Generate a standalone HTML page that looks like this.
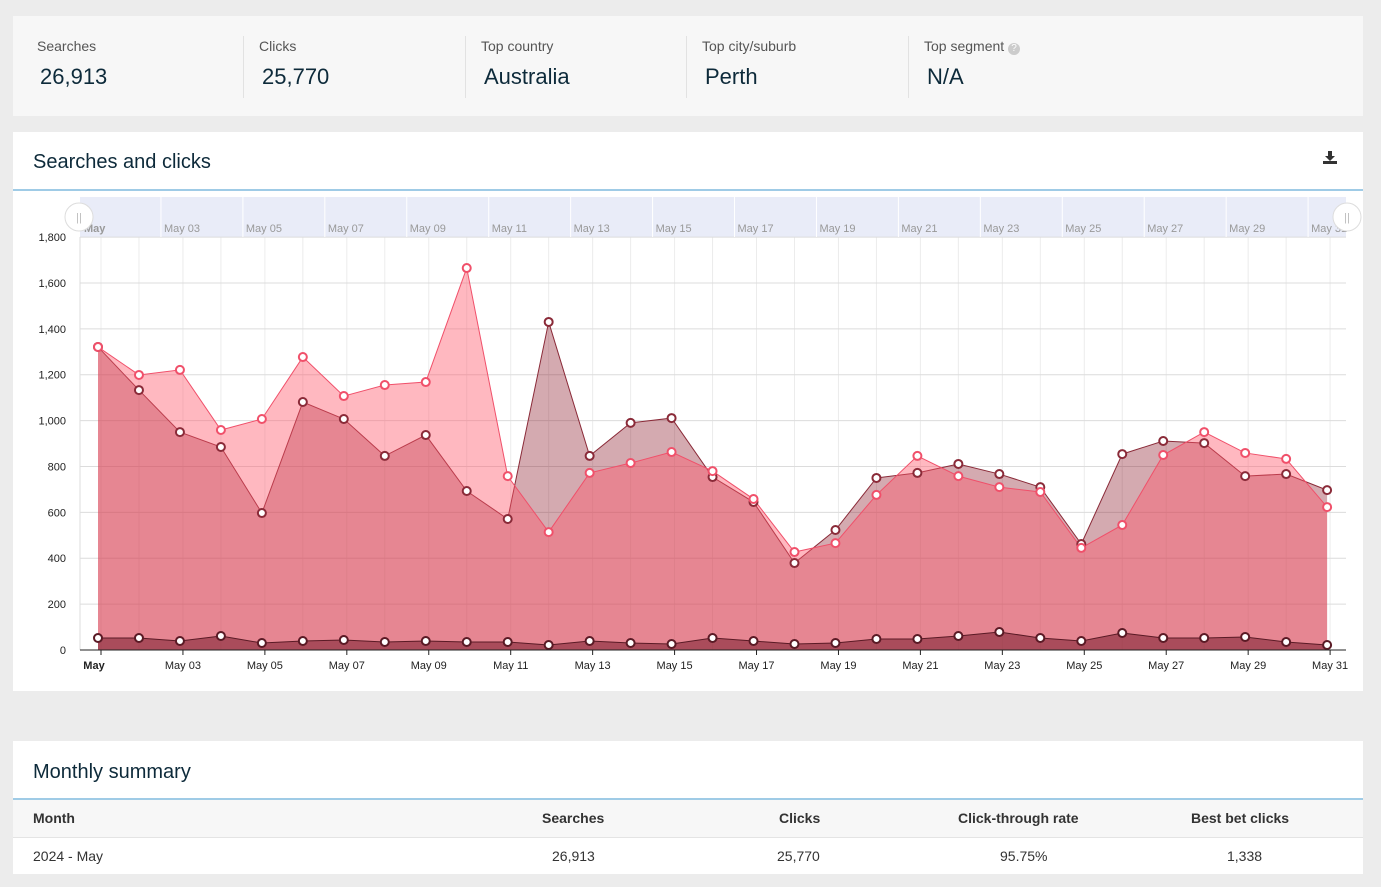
<!DOCTYPE html>
<html><head><meta charset="utf-8"><style>
body{margin:0;width:1381px;height:887px;background:#ececec;font-family:"Liberation Sans","DejaVu Sans",sans-serif;overflow:hidden;position:relative}
.card{position:absolute;background:#fff}
.stat{position:absolute;top:0;height:100px}
.stat .l{position:absolute;top:22px;font-size:14px;color:#555;white-space:nowrap}
.stat .v{position:absolute;top:48px;font-size:22px;color:#0d2a3a;white-space:nowrap}
.sep{position:absolute;top:20px;width:1px;height:62px;background:#e2e2e2}
h2{position:absolute;margin:0;font-weight:normal;font-size:20px;color:#0d2a3a}
.rule{position:absolute;height:2px;background:#9fcbe6}
</style></head><body>
<div class="card" style="left:13px;top:16px;width:1350px;height:100px;background:#f7f7f7">
 <div class="stat" style="left:24px"><div class="l">Searches</div><div class="v" style="left:3px">26,913</div></div>
 <div class="sep" style="left:230px"></div>
 <div class="stat" style="left:246px"><div class="l">Clicks</div><div class="v" style="left:3px">25,770</div></div>
 <div class="sep" style="left:452px"></div>
 <div class="stat" style="left:468px"><div class="l">Top&nbsp;country</div><div class="v" style="left:3px">Australia</div></div>
 <div class="sep" style="left:673px"></div>
 <div class="stat" style="left:689px"><div class="l">Top&nbsp;city/suburb</div><div class="v" style="left:3px">Perth</div></div>
 <div class="sep" style="left:895px"></div>
 <div class="stat" style="left:911px"><div class="l">Top&nbsp;segment <span style="display:inline-block;width:12px;height:12px;border-radius:6px;background:#ccc;color:#fff;font-size:10px;text-align:center;line-height:12px">?</span></div><div class="v" style="left:3px">N/A</div></div>
</div>
<div class="card" style="left:13px;top:132px;width:1350px;height:559px">
 <h2 style="left:20px;top:19px">Searches and clicks</h2>
 <svg style="position:absolute;left:1310px;top:18px" width="14" height="14"><path d="M5 1h4v5h3l-5 5-5-5h3z" fill="#333"/><rect x="0" y="11" width="14" height="3" fill="#333"/></svg>
 <div class="rule" style="left:0;top:57px;width:1350px"></div>
</div>
<svg style="position:absolute;left:0;top:0" width="1381" height="700" id="s"></svg>
<div class="card" style="left:13px;top:741px;width:1350px;height:133px">
 <h2 style="left:20px;top:20px">Monthly summary</h2>
 <div class="rule" style="left:0;top:57px;width:1350px"></div>
 <div style="position:absolute;left:0;top:59px;width:1350px;height:37px;background:#f7f7f7;border-bottom:1px solid #e4e4e4"></div>
 <div style="position:absolute;left:20px;top:69px;font-size:14px;font-weight:bold;color:#333">Month</div>
 <div style="position:absolute;left:529px;top:69px;font-size:14px;font-weight:bold;color:#333">Searches</div>
 <div style="position:absolute;left:766px;top:69px;font-size:14px;font-weight:bold;color:#333">Clicks</div>
 <div style="position:absolute;left:945px;top:69px;font-size:14px;font-weight:bold;color:#333">Click-through rate</div>
 <div style="position:absolute;left:1178px;top:69px;font-size:14px;font-weight:bold;color:#333">Best bet clicks</div>
 <div style="position:absolute;left:20px;top:107px;font-size:14px;color:#333">2024 - May</div>
 <div style="position:absolute;left:539px;top:107px;font-size:14px;color:#333">26,913</div>
 <div style="position:absolute;left:764px;top:107px;font-size:14px;color:#333">25,770</div>
 <div style="position:absolute;left:987px;top:107px;font-size:14px;color:#333">95.75%</div>
 <div style="position:absolute;left:1214px;top:107px;font-size:14px;color:#333">1,338</div>
</div>
<script>
var S=[1321,1133,950,885,597,1081,1007,846,937,693,571,1430,846,990,1011,754,645,379,523,750,772,811,767,710,462,854,911,902,758,767,697];
var C=[1321,1199,1221,959,1007,1277,1107,1155,1168,1665,758,514,772,815,863,780,658,427,466,676,846,758,710,689,445,545,850,950,859,833,623];
var B=[638,638,641,636,643,641,640,642,641,642,642,645,641,643,644,638,641,644,643,639,639,636,632,638,641,633,638,638,637,642,645];
var X=i=>98+i*40.97, Y=v=>650-v*0.2294;
var h='';
h+='<rect x="80" y="197" width="1266" height="40" fill="#e9ecf8"/>';
for(var i=0;i<31;i++){var x=X(i)+(i%2?0:3);h+='<line x1="'+x+'" y1="237" x2="'+x+'" y2="650" stroke="#ececec"/>';}
for(var v=0;v<=1800;v+=200){var y=Y(v);h+='<line x1="80" y1="'+y+'" x2="1346" y2="'+y+'" stroke="#dcdcdc"/>';h+='<text x="66" y="'+(y+4)+'" font-size="11" text-anchor="end" fill="#222">'+v.toLocaleString('en-US')+'</text>';}
h+='<line x1="80" y1="237" x2="80" y2="650" stroke="#ddd"/>';
function area(d,f,st,yf){var p='M'+X(0)+',650';d.forEach((v,i)=>p+=' L'+X(i)+','+yf(v));p+=' L'+X(30)+',650Z';var l='M';d.forEach((v,i)=>l+=(i?' L':'')+X(i)+','+yf(v));return '<path d="'+p+'" fill="'+f+'"/><path d="'+l+'" fill="none" stroke="'+st+'" stroke-width="1"/>';}
h+=area(S,'rgba(132,12,28,0.35)','#8a2a38',Y);
h+=area(C,'rgba(255,85,105,0.42)','#f0506a',Y);
h+=area(B,'rgba(120,30,45,0.55)','#5a1a25',v=>v);
function dots(d,st,yf){var r='';d.forEach((v,i)=>r+='<circle cx="'+X(i)+'" cy="'+yf(v)+'" r="4" fill="#fff" stroke="'+st+'" stroke-width="2"/>');return r;}
h+=dots(S,'#8a2a38',Y)+dots(C,'#f0506a',Y)+dots(B,'#5a1a25',v=>v);
h+='<line x1="80" y1="650" x2="1346" y2="650" stroke="#222"/>';
for(var i=0;i<31;i+=2){var x=X(i)+3;h+='<line x1="'+x+'" y1="650" x2="'+x+'" y2="655" stroke="#222"/>';
 var t=i==0?'May':'May '+String(i+1).padStart(2,'0');
 h+='<text x="'+(i==0?94:x)+'" y="669" font-size="11" text-anchor="middle" fill="#222"'+(i==0?' font-weight="bold"':'')+'>'+t+'</text>';
 var sx=X(i)-19;
 if(i>0)h+='<line x1="'+sx+'" y1="197" x2="'+sx+'" y2="237" stroke="#fff"/>';
 h+='<text x="'+(i==0?84:sx+3)+'" y="232" font-size="11" fill="#999"'+(i==0?' font-weight="bold"':'')+'>'+t+'</text>';}
h+='<circle cx="79" cy="217" r="14" fill="#fff" stroke="#ddd"/><text x="79" y="221" font-size="11" text-anchor="middle" fill="#bbb">||</text>';
h+='<circle cx="1347" cy="217" r="14" fill="#fff" stroke="#ddd"/><text x="1347" y="221" font-size="11" text-anchor="middle" fill="#bbb">||</text>';
document.getElementById('s').innerHTML=h;
</script>
</body></html>
